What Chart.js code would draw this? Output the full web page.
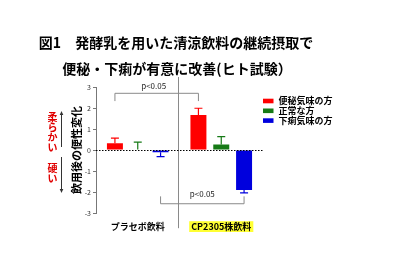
<!DOCTYPE html>
<html>
<head>
<meta charset="utf-8">
<script src="https://cdn.jsdelivr.net/npm/chart.js@4/dist/chart.umd.min.js"></script>
<style>
  html, body { margin: 0; background: #fff; }
  #wrap { width: 395px; height: 265px; }
</style>
</head>
<body>
<div id="wrap"><canvas id="chart"></canvas></div>
<script>
const groups = ['プラセボ飲料', 'CP2305株飲料'];
const seriesNames = ['便秘気味の方', '正常な方', '下痢気味の方'];
const constipated = [0.32, 1.67];
const normal = [0.03, 0.27];
const diarrhea = [-0.1, -1.9];
const errConstipated = [0.25, 0.32];
const errNormal = [0.35, 0.37];
const errDiarrhea = [0.21, 0.13];
const titleLines = ['図1　発酵乳を用いた清涼飲料の継続摂取で', '便秘・下痢が有意に改善(ヒト試験）'];
const yTitle = '飲用後の便性変化';
const softLabel = '柔らかい';
const hardLabel = '硬い';
const sigLabel = 'p<0.05';

const FONT = '"Noto Sans CJK JP", "Noto Sans", sans-serif';
Chart.defaults.font.family = FONT;

// error bars, only on the side the bar points to
const errorBars = {
  id: 'errorBars',
  afterDatasetsDraw(chart) {
    const ctx = chart.ctx, y = chart.scales.y;
    chart.data.datasets.forEach((ds, i) => {
      const meta = chart.getDatasetMeta(i);
      meta.data.forEach((bar, j) => {
        const v = ds.data[j], e = ds.errors[j];
        const y0 = y.getPixelForValue(v);
        const y1 = y.getPixelForValue(v >= 0 ? v + e : v - e);
        ctx.save();
        ctx.strokeStyle = ds.backgroundColor;
        ctx.lineWidth = 1.2;
        ctx.beginPath();
        ctx.moveTo(bar.x, y0); ctx.lineTo(bar.x, y1);
        ctx.moveTo(bar.x - 4, y1); ctx.lineTo(bar.x + 4, y1);
        ctx.stroke();
        ctx.restore();
      });
    });
  }
};

// title, legend, zero line, separator, brackets, side labels
const decor = {
  id: 'decor',
  beforeDatasetsDraw(chart) {
    const ctx = chart.ctx, a = chart.chartArea, x = chart.scales.x;
    ctx.save();
    // group separator
    const sx = Math.round(x.getPixelForValue(0.5)) - 1.5;
    ctx.strokeStyle = '#8a8a8a'; ctx.lineWidth = 1;
    ctx.beginPath(); ctx.moveTo(sx, a.top - 10); ctx.lineTo(sx, a.bottom + 15); ctx.stroke();
    ctx.restore();
  },
  afterDatasetsDraw(chart) {
    const ctx = chart.ctx, a = chart.chartArea, y = chart.scales.y;
    ctx.save();
    // dotted zero line
    const zy = Math.round(y.getPixelForValue(0)) + 0.5;
    ctx.strokeStyle = '#000'; ctx.lineWidth = 1; ctx.setLineDash([1.5, 1.5]);
    ctx.beginPath(); ctx.moveTo(a.left, zy); ctx.lineTo(a.right, zy); ctx.stroke();
    ctx.setLineDash([]);

    // significance brackets
    const barX = (ds, j) => chart.getDatasetMeta(ds).data[j].x;
    ctx.strokeStyle = '#8a8a8a'; ctx.fillStyle = '#222';
    ctx.font = '8px ' + FONT; ctx.textAlign = 'center'; ctx.textBaseline = 'middle';
    let x1 = barX(0, 0), x2 = barX(0, 1), yl = y.getPixelForValue(2.7), ye = y.getPixelForValue(2.33);
    ctx.beginPath(); ctx.moveTo(x1, ye); ctx.lineTo(x1, yl); ctx.lineTo(x2, yl); ctx.lineTo(x2, ye); ctx.stroke();
    ctx.fillText(sigLabel, (x1 + x2) / 2 - 3, y.getPixelForValue(3.05));
    x1 = barX(2, 0); x2 = barX(2, 1); yl = y.getPixelForValue(-2.55); ye = y.getPixelForValue(-2.2);
    ctx.beginPath(); ctx.moveTo(x1, ye); ctx.lineTo(x1, yl); ctx.lineTo(x2, yl); ctx.lineTo(x2, ye); ctx.stroke();
    ctx.fillText(sigLabel, (x1 + x2) / 2, y.getPixelForValue(-2.1));

    // legend
    ctx.textAlign = 'left';
    ctx.font = 'bold 9px ' + FONT;
    chart.data.datasets.forEach((ds, i) => {
      const ly = a.top + 14 + i * 9.8;
      ctx.fillStyle = ds.backgroundColor;
      ctx.fillRect(a.right, ly - 2.3, 10.5, 4.6);
      ctx.fillStyle = '#000';
      ctx.fillText(ds.label, a.right + 15.5, ly);
    });

    // title
    ctx.textAlign = 'center';
    ctx.font = 'bold 14px ' + FONT;
    ctx.fillStyle = '#000';
    ctx.fillText(titleLines[0], 176, 43);
    ctx.fillText(titleLines[1], 177, 69);

    // soft / hard side labels with arrows
    const lx = 52.5, ax = 61.5;
    ctx.fillStyle = '#e00000';
    ctx.font = 'bold 10px ' + FONT;
    [...softLabel].forEach((c, k) => ctx.fillText(c, lx, 117.5 + k * 10));
    [...hardLabel].forEach((c, k) => ctx.fillText(c, lx, 168 + k * 10.5));
    ctx.strokeStyle = '#333'; ctx.fillStyle = '#333'; ctx.lineWidth = 1;
    ctx.beginPath(); ctx.moveTo(ax, 113); ctx.lineTo(ax, 147); ctx.moveTo(ax, 157); ctx.lineTo(ax, 191); ctx.stroke();
    ctx.beginPath(); ctx.moveTo(ax, 111); ctx.lineTo(ax - 1.8, 115); ctx.lineTo(ax + 1.8, 115); ctx.fill();
    ctx.beginPath(); ctx.moveTo(ax, 193); ctx.lineTo(ax - 1.8, 189); ctx.lineTo(ax + 1.8, 189); ctx.fill();
    ctx.restore();
  }
};

new Chart(document.getElementById('chart'), {
  type: 'bar',
  data: {
    labels: groups,
    datasets: [
      { label: seriesNames[0], data: constipated, errors: errConstipated, backgroundColor: '#ff0000' },
      { label: seriesNames[1], data: normal, errors: errNormal, backgroundColor: '#167a16' },
      { label: seriesNames[2], data: diarrhea, errors: errDiarrhea, backgroundColor: '#0000dd' }
    ]
  },
  options: {
    responsive: true,
    maintainAspectRatio: false,
    animation: false,
    layout: { padding: { top: 87, left: 46, right: 132, bottom: 25 } },
    datasets: { bar: { barPercentage: 0.7, categoryPercentage: 0.82 } },
    plugins: { legend: { display: false }, title: { display: false }, tooltip: { enabled: false } },
    scales: {
      x: {
        grid: { display: false, drawTicks: false },
        border: { display: false },
        ticks: {
          padding: 8,
          color: '#000',
          font: { size: 9, weight: 'bold' },
          showLabelBackdrop: true,
          backdropColor: c => c.index === 1 ? '#ffff33' : 'rgba(0,0,0,0)',
          backdropPadding: { x: 2, y: 0 }
        }
      },
      y: {
        min: -3, max: 3,
        afterFit(s) { s.width = 50; },
        ticks: { stepSize: 1, padding: 2, color: '#333', font: { size: 7 } },
        grid: { drawOnChartArea: false, tickLength: 3, color: '#777' },
        border: { color: '#777' },
        title: {
          display: true, text: yTitle, color: '#000',
          font: { size: 11, weight: 'bold' },
          padding: { top: 24, bottom: 0 }
        }
      }
    }
  },
  plugins: [decor, errorBars]
});
</script>
</body>
</html>
